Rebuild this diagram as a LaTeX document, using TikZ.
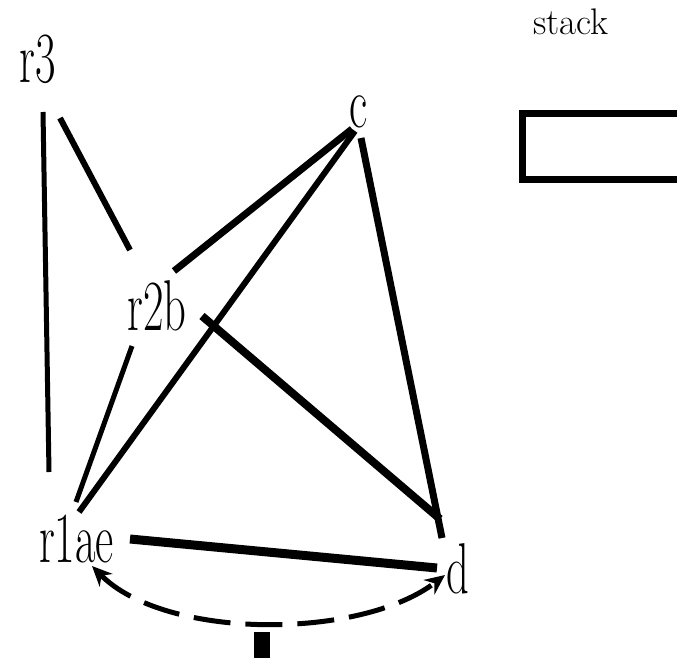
\documentclass[tikz,border=0pt]{standalone}
\usepackage{tikz}
\usetikzlibrary{arrows.meta}

\begin{document}
\begin{tikzpicture}[x=1pt,y=-1pt,
    lbl/.style={anchor=base,inner sep=0pt,font=\rmfamily\fontsize{72}{72}\selectfont},
    endtip/.tip={Stealth[length=20pt,width=18pt]}]
    \useasboundingbox (0,0) rectangle (677,658);
    \clip (0,0) rectangle (677,658);
    % graph nodes
    \node[lbl] (r3)   at (37.5,83) {\scalebox{0.62}[1]{r3}};
    \node[lbl] (r2b)  at (157,330) {\scalebox{0.62}[1]{r2b}};
    \node[lbl] (r1ae) at (76.5,562) {\scalebox{0.62}[1]{r1ae}};
    \node[lbl] (c)    at (359,128) {\scalebox{0.62}[1]{c}};
    \node[lbl] (d)    at (458,593) {\scalebox{0.62}[1]{d}};
    % stack
    \node[anchor=base,inner sep=0pt,font=\rmfamily\fontsize{37}{37}\selectfont] (stack) at (571,35) {stack};
    \node[draw,line width=7pt,anchor=north west,inner sep=0pt,outer sep=0pt,
          minimum width=180pt,minimum height=66pt] (top) at (522.5,113.5) {};
    % edges
    \foreach \a/\ax/\ay/\b/\bx/\by/\w in {
        r3/5.5/29/r1ae/-27.5/-90/5pt,
        r3/22.5/35/r2b/-27/-80/6pt,
        c/-7/1/r2b/17/-59/7pt,
        c/-4/3/r1ae/2.5/-50/6pt,
        c/2/10/d/-16/-55/7pt,
        r2b/45/-14/d/-18/-74/8pt,
        r2b/-25/16/r1ae/-0.5/-60/5pt,
        r1ae/53.5/-23/d/-21/-25/9pt
    } {
      \draw[line width=\w] ([shift={(\ax,\ay)}]\a.base) -- ([shift={(\bx,\by)}]\b.base);
    }
    \draw[line width=5pt,dash pattern=on 37pt off 15pt,endtip-endtip]
      ([shift={(15.5,4)}]r1ae.base) .. controls (165,640) and (360,640) .. ([shift={(-13,-18)}]d.base);
    \node[fill,inner sep=0pt,minimum width=16pt,minimum height=30pt,anchor=north] (mark) at (262,632) {};
\end{tikzpicture}
\end{document}
